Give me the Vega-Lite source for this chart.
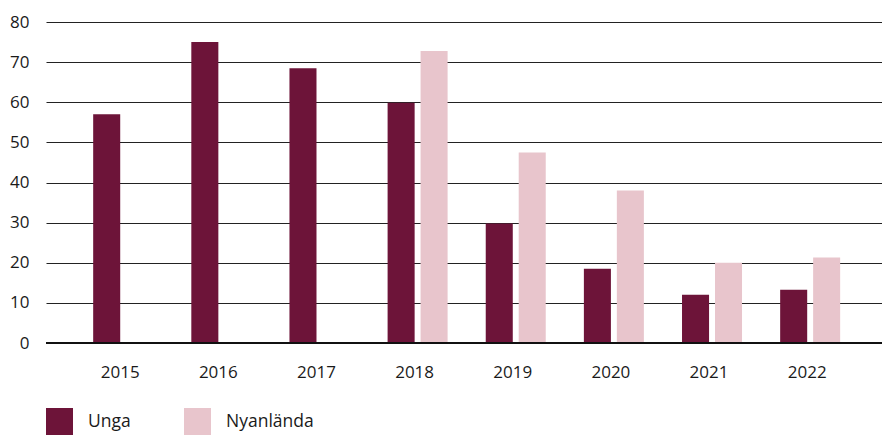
{
  "$schema": "https://vega.github.io/schema/vega-lite/v6.json",
  "autosize": "none",
  "width": 836,
  "height": 321,
  "padding": {"left": 46, "top": 22, "right": 0, "bottom": 93},
  "background": "white",
  "config": {
    "font": "Open Sans",
    "view": {"stroke": null}
  },
  "data": {
    "values": [
      {"year": "2015", "group": "Unga", "value": 57},
      {"year": "2016", "group": "Unga", "value": 75},
      {"year": "2017", "group": "Unga", "value": 68.5},
      {"year": "2018", "group": "Unga", "value": 59.9},
      {"year": "2018", "group": "Nyanlända", "value": 72.8},
      {"year": "2019", "group": "Unga", "value": 29.8},
      {"year": "2019", "group": "Nyanlända", "value": 47.5},
      {"year": "2020", "group": "Unga", "value": 18.5},
      {"year": "2020", "group": "Nyanlända", "value": 38},
      {"year": "2021", "group": "Unga", "value": 12},
      {"year": "2021", "group": "Nyanlända", "value": 20},
      {"year": "2022", "group": "Unga", "value": 13.3},
      {"year": "2022", "group": "Nyanlända", "value": 21.3}
    ]
  },
  "layer": [
    {
      "mark": {"type": "bar"},
      "encoding": {
        "x": {
          "field": "year",
          "type": "nominal",
          "scale": {"paddingInner": 0.3886, "paddingOuter": 0.4535, "align": 0.53},
          "axis": {
            "title": null,
            "labelAngle": 0,
            "ticks": false,
            "domain": false,
            "labelFontSize": 17,
            "labelColor": "#1a1a1a",
            "labelPadding": 21,
            "labelOffset": -3
          }
        },
        "xOffset": {
          "field": "group",
          "type": "nominal",
          "scale": {"domain": ["Unga", "Nyanlända"], "paddingInner": 0.18, "paddingOuter": 0}
        },
        "y": {
          "field": "value",
          "type": "quantitative",
          "scale": {"domain": [0, 80]},
          "axis": {
            "title": null,
            "values": [0, 10, 20, 30, 40, 50, 60, 70, 80],
            "ticks": false,
            "domain": false,
            "grid": true,
            "gridColor": "#222222",
            "gridWidth": 1.2,
            "labelFontSize": 17,
            "labelColor": "#1a1a1a",
            "labelPadding": 17
          }
        },
        "color": {
          "field": "group",
          "type": "nominal",
          "scale": {"domain": ["Unga", "Nyanlända"], "range": ["#6d1439", "#e8c5cc"]},
          "legend": {
            "title": null,
            "orient": "none",
            "legendX": 0,
            "legendY": 386,
            "direction": "horizontal",
            "symbolType": "square",
            "symbolSize": 729,
            "symbolStrokeWidth": 0,
            "labelFontSize": 17.5,
            "labelColor": "#1a1a1a",
            "labelOffset": 15,
            "columnPadding": 53
          }
        }
      }
    },
    {
      "mark": {"type": "rule", "color": "#111111", "strokeWidth": 2},
      "encoding": {"y": {"datum": 0}}
    }
  ]
}
